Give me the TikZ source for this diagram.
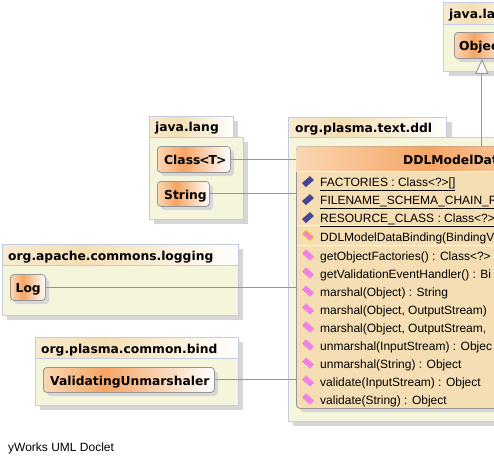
\documentclass[tikz,border=0pt]{standalone}
\usepackage{fontspec}
\setmainfont{Liberation Sans}
\newfontfamily\boldfam{DejaVu Sans Bold}
\usetikzlibrary{arrows.meta}
\definecolor{pkgfill}{RGB}{245,245,220}
\definecolor{pkgline}{RGB}{196,204,226}
\definecolor{shadowc}{RGB}{214,214,214}
\definecolor{nodeline}{RGB}{150,150,150}
\definecolor{wheatc}{RGB}{245,222,179}
\definecolor{wheatl}{RGB}{248,234,208}
\definecolor{linkc}{RGB}{150,150,150}
\definecolor{orangec}{RGB}{245,165,100}
\definecolor{peachc}{RGB}{250,215,180}
\definecolor{fieldc}{RGB}{70,70,150}
\definecolor{methodc}{RGB}{240,130,230}
\pgfdeclarehorizontalshading{pkghead}{100bp}{color(0bp)=(wheatl); color(25bp)=(wheatl); color(42bp)=(wheatc); color(75bp)=(white); color(100bp)=(white)}
\pgfdeclarehorizontalshading{clsgradb}{100bp}{color(0bp)=(peachc); color(25bp)=(peachc); color(43bp)=(orangec); color(75bp)=(white); color(100bp)=(white)}
\tikzset{
  x=1pt,y=-1pt,
  pkgbody/.style={draw=pkgline,fill=pkgfill,line width=0.8pt,inner sep=0pt,minimum width=#1},
  pkgtitle/.style={draw=pkgline,shade,shading=pkghead,line width=0.8pt,inner sep=0pt,minimum height=21pt,minimum width=#1,text=black},
  cls/.style={draw=nodeline,rounded corners=3.5pt,line width=0.8pt,shade,shading=clsgradb,inner sep=0pt,minimum height=26pt,minimum width=#1},
  lbl/.style={font=\boldfam\fontsize{12.3}{14}\selectfont,inner sep=0pt,anchor=base west},
  member/.style={font=\fontsize{12}{14}\selectfont,inner sep=0pt,anchor=base west},
  link/.style={draw=linkc,line width=0.9pt},
}
\begin{document}
\begin{tikzpicture}
\useasboundingbox (0,0) rectangle (494,464);
\clip (0,0) rectangle (494,464);
\fill[white] (0,0) rectangle (494,464);
% shadows
\fill[shadowc] (449,29) rectangle (560,76);
\fill[shadowc] (154,121) rectangle (238,142);
\fill[shadowc] (154,142) rectangle (248,224);
\fill[shadowc] (7,249) rectangle (243,320);
\fill[shadowc] (40,342) rectangle (243,410);
\fill[shadowc] (293,122) rectangle (452,142);
\fill[shadowc] (293,142) rectangle (700,426);
% package bodies and titles
\node[pkgbody=100pt,minimum height=47pt,anchor=north west] (pkgobj) at (443,24) {};
\node[pkgtitle=84pt,minimum height=22pt,anchor=north west] (pkgobjt) at (443,2) {};
\node[pkgbody=94pt,minimum height=82pt,anchor=north west] (pkglang) at (149,137) {};
\node[pkgtitle=84pt,anchor=north west] (pkglangt) at (149,116) {};
\node[pkgbody=236pt,minimum height=50pt,anchor=north west] (pkglog) at (2,265) {};
\node[pkgtitle=236pt,anchor=north west] (pkglogt) at (2,244) {};
\node[pkgbody=203pt,minimum height=47pt,anchor=north west] (pkgbind) at (35,358) {};
\node[pkgtitle=203pt,anchor=north west] (pkgbindt) at (35,337) {};
\node[pkgbody=400pt,minimum height=284pt,anchor=north west] (pkgddl) at (288,137) {};
\node[pkgtitle=158pt,minimum height=20pt,anchor=north west] (pkgddlt) at (288,117) {};
\node[lbl] (t1) at (449,18) {java.lang};
\node[lbl] (t2) at (155,131) {java.lang};
\node[lbl] (t3) at (8,260) {org.apache.commons.logging};
\node[lbl] (t4) at (41,353) {org.plasma.common.bind};
\node[lbl] (t5) at (295,132) {org.plasma.text.ddl};
% class shadows
\fill[shadowc,rounded corners=3.5pt] (458,36) rectangle (513,62);
\fill[shadowc,rounded corners=3.5pt] (161,150) rectangle (234,176);
\fill[shadowc,rounded corners=3.5pt] (161,185) rectangle (213,210);
\fill[shadowc,rounded corners=3.5pt] (14,278) rectangle (49,304);
\fill[shadowc,rounded corners=3.5pt] (47,371) rectangle (218,396);
\fill[shadowc,rounded corners=3.5pt] (300,150) rectangle (668,412);
% DDL class
\node[draw=nodeline,fill=wheatc,rounded corners=3.5pt,line width=0.8pt,minimum width=368pt,minimum height=262pt,inner sep=0pt,anchor=north west] (ddl) at (296,146) {};
\begin{scope}
\clip[rounded corners=3.5pt] (296.4,146.4) rectangle (664,190);
\shade[shading=clsgradb] (296,146) rectangle (664,171);
\end{scope}
\draw[white!70!wheatc,line width=0.8pt] (296.5,171) -- (494,171) (296.5,225) -- (494,225) (296.5,245) -- (494,245);
\node[lbl] (ddlname) at (403,164) {DDLModelData};
% small classes
\node[cls=55pt,anchor=north west] (obj) at (454,32) {};
\node[lbl] at (459,50) {Object};
\node[cls=73pt,anchor=north west] (classT) at (157,146) {};
\node[lbl] at (164,164) {Class\kern-1pt<\kern-1pt T\kern-1pt>};
\node[cls=52pt,minimum height=25pt,anchor=north west] (str) at (157,181) {};
\node[lbl] at (164,199) {String};
\node[cls=35pt,anchor=north west] (log) at (10,274) {};
\node[lbl] at (15.5,292) {Log};
\node[cls=171pt,minimum height=25pt,anchor=north west] (vu) at (43,367) {};
\node[lbl] at (50,385) {ValidatingUnmarshaler};
% members
\foreach \ypos/\txt in {186/{\underline{FACTORIES : Class<?>[]}},204/{\underline{FILENAME\_SCHEMA\_CHAIN\_R}},222/{\underline{RESOURCE\_CLASS : Class<?>}},241/{DDLModelDataBinding(BindingV},260/{getObjectFactories() : Class<?>},278/{getValidationEventHandler() : Bi},296/{marshal(Object) : String},314/{marshal(Object, OutputStream)},332/{marshal(Object, OutputStream,},350/{unmarshal(InputStream) : Objec},368/{unmarshal(String) : Object},386/{validate(InputStream) : Object},404/{validate(String) : Object}}{
  \node[member] at (320,\ypos) {\txt};
}
% icons
\foreach \yc in {182,200,218}{
  \fill[fieldc] (302,\yc+1) -- (310,\yc-6) -- (314,\yc-2) -- (306,\yc+5) -- cycle;
}
\fill[methodc,draw=yellow!75!orange!90!black,line width=1pt] (302.5,234) -- (306,230.5) -- (313.5,237) -- (310,240.5) -- cycle;
\foreach \yc in {256,274,292,310,328,346,364,382,400}{
  \fill[methodc] (302,\yc-2.5) -- (306,\yc-6.5) -- (314,\yc+.5) -- (310,\yc+4.5) -- cycle;
}
% connectors
\draw[link] (classT.east) -- (classT.east -| ddl.west);
\draw[link] (str.east) -- (str.east -| ddl.west);
\draw[link] (log.east) -- (log.east -| ddl.west);
\draw[link] (vu.east) -- (vu.east -| ddl.west);
\draw[link,-{Triangle[open,fill=white,length=15pt,width=13pt]}] (obj.south |- ddl.north) -- (obj.south);
\node[font=\fontsize{12}{14}\selectfont,inner sep=0pt,anchor=base west] (credit) at (8,451) {yWorks UML Doclet};
\end{tikzpicture}
\end{document}
